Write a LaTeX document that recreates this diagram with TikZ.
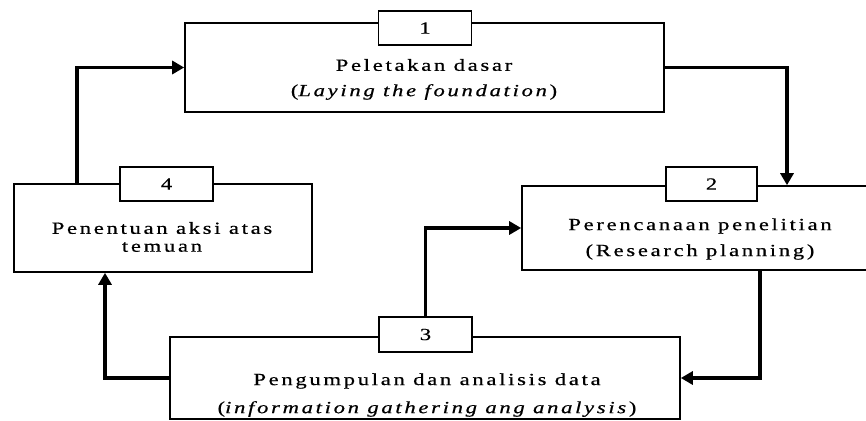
\documentclass[tikz,border=0pt]{standalone}
\usepackage{fontspec}
\setmainfont{Liberation Serif}
\usetikzlibrary{arrows.meta}
\newfontfamily\spaced[LetterSpace=12,FakeBold=0.5]{Liberation Serif}
\newcommand\wide[1]{\scalebox{1.33}[1]{#1}}
\begin{document}
\begin{tikzpicture}[x=1pt,y=-1pt,
  box/.style={draw,line width=1.6pt,rectangle,inner sep=0pt},
  numbox/.style={draw,line width=1.6pt,fill=white,rectangle,inner sep=0pt,
    minimum width=93pt,minimum height=34pt,font=\spaced\fontsize{17}{20}\selectfont},
  txt/.style={inner sep=0pt,font=\spaced\fontsize{17}{20}\selectfont,align=center},
  conn/.style={line width=3.8pt,-{Triangle[length=12pt,width=13pt]}}]
\useasboundingbox (0,0) rectangle (866,420);
\clip (0,0) rectangle (866,420);
\fill[white] (0,0) rectangle (866,420);
% main boxes
\node[box,minimum width=479pt,minimum height=89pt] (box1) at (424.5,67.5) {};
\node[box,minimum width=378pt,minimum height=84pt] (box2) at (711,228) {};
\node[box,minimum width=510pt,minimum height=82pt] (box3) at (425,378) {};
\node[box,minimum width=298pt,minimum height=88pt] (box4) at (163,228) {};
% number boxes
\node[numbox] (n1) at (425,28) {\wide{1}};
\node[numbox,minimum width=91pt] (n2) at (711.5,184) {\wide{2}};
\node[numbox,minimum height=35pt] (n3) at (425.5,334.5) {\wide{3}};
\node[numbox] (n4) at (166.5,184) {\wide{4}};
% texts
\node[txt] (t1a) at (424,65) {\wide{Peletakan dasar}};
\node[txt] (t1b) at (424,92) {\wide{(\textit{Laying the foundation})}};
\node[txt] (t2a) at (700,226) {\wide{Perencanaan penelitian}};
\node[txt] (t2b) at (700,252) {\wide{(Research planning)}};
\node[txt] (t3a) at (427,381) {\wide{Pengumpulan dan analisis data}};
\node[txt] (t3b) at (427,409) {\wide{(\textit{information gathering ang analysis})}};
\node[txt] (t4a) at (162,228) {\wide{Penentuan aksi atas}};
\node[txt] (t4b) at (162,247) {\wide{temuan}};
% connector guide coordinates
\coordinate (c41) at (77,0);
\coordinate (c12) at (787,0);
\coordinate (c23) at (760,0);
\coordinate (c34) at (105,0);
% connectors
\draw[conn] (box4.north -| c41) |- (box1.west);
\draw[conn] (box1.east) -| (box2.north -| c12);
\draw[conn] (box2.south -| c23) |- (box3.east);
\draw[conn] (box3.west) -| (box4.south -| c34);
\draw[conn] (n3.north) |- (box2.west);
\end{tikzpicture}
\end{document}
